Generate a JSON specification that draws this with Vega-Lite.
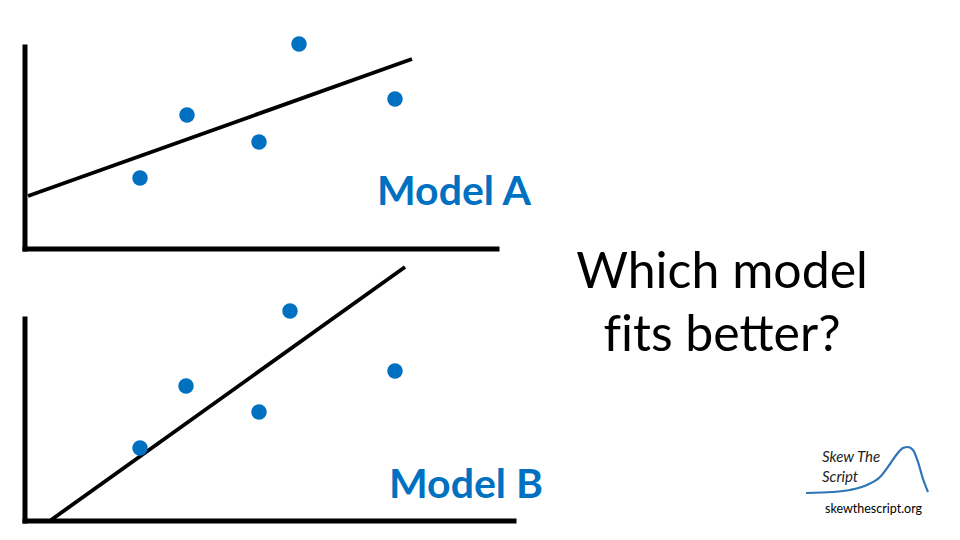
{
  "$schema": "https://vega.github.io/schema/vega-lite/v6.json",
  "width": 960,
  "height": 540,
  "autosize": {"type": "fit", "contains": "padding"},
  "padding": 0,
  "background": "white",
  "config": {"view": {"stroke": null}},
  "datasets": {
    "axes": [
      {"panel": "A", "x": 25, "y": 47, "x2": 25, "y2": 249},
      {"panel": "A", "x": 25, "y": 249, "x2": 497, "y2": 249},
      {"panel": "B", "x": 25, "y": 319, "x2": 25, "y2": 521},
      {"panel": "B", "x": 25, "y": 521, "x2": 514, "y2": 521}
    ],
    "fits": [
      {"panel": "A", "x": 28, "y": 196, "x2": 412, "y2": 59},
      {"panel": "B", "x": 51, "y": 520, "x2": 405, "y2": 267}
    ],
    "points": [
      {"panel": "A", "x": 140, "y": 178},
      {"panel": "A", "x": 187, "y": 115},
      {"panel": "A", "x": 259, "y": 142},
      {"panel": "A", "x": 299, "y": 44},
      {"panel": "A", "x": 395, "y": 99},
      {"panel": "B", "x": 140, "y": 448},
      {"panel": "B", "x": 186, "y": 386},
      {"panel": "B", "x": 259, "y": 412},
      {"panel": "B", "x": 290, "y": 311},
      {"panel": "B", "x": 395, "y": 371}
    ],
    "labels": [
      {"label": "Model A", "x": 377, "y": 205},
      {"label": "Model B", "x": 389, "y": 498}
    ],
    "question": [
      {"label": "Which model", "x": 722, "y": 288},
      {"label": "f‌its better?", "x": 722, "y": 351}
    ],
    "logoCurve": [
      {"x": 806, "y": 493}, {"x": 833, "y": 492}, {"x": 850, "y": 490},
      {"x": 867, "y": 485}, {"x": 880, "y": 477}, {"x": 890, "y": 464},
      {"x": 897, "y": 454}, {"x": 903, "y": 448}, {"x": 908, "y": 447},
      {"x": 913, "y": 450}, {"x": 918, "y": 462}, {"x": 923, "y": 479},
      {"x": 928, "y": 492}
    ],
    "logoText": [
      {"label": "Skew The", "x": 822, "y": 462},
      {"label": "Script", "x": 822, "y": 482}
    ],
    "url": [
      {"label": "skewthescript.org", "x": 825, "y": 513}
    ]
  },
  "encoding": {
    "x": {"field": "x", "type": "quantitative", "scale": {"domain": [0, 960]}, "axis": null},
    "y": {"field": "y", "type": "quantitative", "scale": {"domain": [0, 540], "reverse": true}, "axis": null}
  },
  "layer": [
    {
      "data": {"name": "axes"},
      "mark": {"type": "rule", "color": "black", "strokeWidth": 5, "strokeCap": "square"},
      "encoding": {"x2": {"field": "x2"}, "y2": {"field": "y2"}}
    },
    {
      "data": {"name": "fits"},
      "mark": {"type": "rule", "color": "black", "strokeWidth": 3.8},
      "encoding": {"x2": {"field": "x2"}, "y2": {"field": "y2"}}
    },
    {
      "data": {"name": "points"},
      "mark": {"type": "circle", "color": "#0070C0", "opacity": 1, "size": 240}
    },
    {
      "data": {"name": "labels"},
      "mark": {"type": "text", "align": "left", "baseline": "alphabetic", "font": "Lato", "fontWeight": "bold", "fontSize": 41, "color": "#0070C0"},
      "encoding": {"text": {"field": "label"}}
    },
    {
      "data": {"name": "question"},
      "mark": {"type": "text", "align": "center", "baseline": "alphabetic", "font": "Lato", "fontSize": 50, "color": "black"},
      "encoding": {"text": {"field": "label"}}
    },
    {
      "data": {"name": "logoCurve"},
      "mark": {"type": "line", "color": "#2E75B6", "strokeWidth": 2.2, "interpolate": "monotone"},
      "encoding": {"order": {"field": "x", "type": "quantitative"}}
    },
    {
      "data": {"name": "logoText"},
      "mark": {"type": "text", "align": "left", "baseline": "alphabetic", "font": "Lato", "fontStyle": "italic", "fontSize": 15, "color": "#222222"},
      "encoding": {"text": {"field": "label"}}
    },
    {
      "data": {"name": "url"},
      "mark": {"type": "text", "align": "left", "baseline": "alphabetic", "font": "Lato", "fontSize": 12.5, "color": "black"},
      "encoding": {"text": {"field": "label"}}
    }
  ]
}
